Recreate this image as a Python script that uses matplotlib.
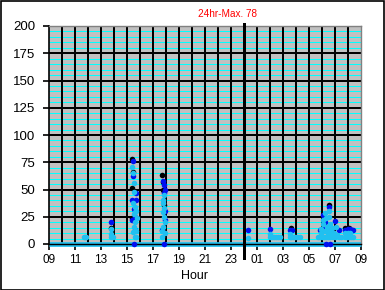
import matplotlib
matplotlib.use("Agg")
import matplotlib.pyplot as plt
from matplotlib.patches import Rectangle

# ---- data (hours counted from 00:00 of day 1; 24..33 = next day 00..09) ----
base_t = [9.0, 33.0]
base_v = [0, 0]

black_t = [13.80, 15.38, 15.45, 15.42, 15.40, 17.72, 17.80, 17.76, 17.85,
           27.60, 30.52, 31.77, 31.98, 32.10]
black_v = [15, 78, 66, 51, 24, 63, 57, 50, 36,
           15, 35.5, 15, 15, 15]

blue_t = [13.75,
          15.45, 15.48, 15.72, 15.42, 15.70, 15.50, 15.40, 15.60, 15.55, 15.65,
          17.78, 17.85, 17.90, 17.82, 17.95, 17.70, 17.85, 17.92,
          24.28, 26.00, 27.52, 27.68,
          30.52, 30.10, 31.00, 30.25, 30.15, 29.85, 30.70, 31.30, 30.30, 30.60,
          31.77, 31.97, 32.12, 32.30, 32.40]
blue_v = [20.5,
          76, 62, 47, 40, 40, 32, 22, 13, 0, 25,
          58, 54, 50, 47, 22, 13, 0, 30,
          12.8, 13.5, 13, 13,
          33.5, 26.5, 21, 20.5, 14, 13, 14, 13, 0, 0,
          13, 13.5, 13.5, 13, 13]

lblue_t = [11.68, 11.75, 11.82,
           13.78, 13.80, 13.77, 13.90,
           15.42, 15.46, 15.50, 15.52, 15.45, 15.58, 15.60, 15.50, 15.65, 15.55,
           15.45, 15.62, 15.72, 15.70, 15.75, 15.68,
           17.82, 17.78, 17.80, 17.85, 17.75, 17.88, 17.90, 17.80, 17.72, 17.68, 17.95,
           24.28,
           26.00, 25.98, 26.15, 26.30, 26.45, 26.60, 26.75,
           27.55, 27.50, 27.65, 27.80, 27.95, 28.10, 28.30,
           29.70, 29.85, 29.95, 30.05, 30.10, 30.20, 30.30, 30.40, 30.45, 30.50,
           30.55, 30.60, 30.65, 30.75, 30.85, 30.95, 31.05, 31.15, 31.30, 31.45,
           30.00, 30.15, 30.30, 30.45, 30.60, 30.25, 29.90, 30.80, 31.00,
           31.77, 31.80,
           31.95, 32.10, 32.25, 32.40, 31.97, 32.15]
lblue_v = [6, 6, 6,
           13.5, 9, 6, 6,
           71, 65, 56, 48, 37.6, 34, 29.6, 27.5, 20.5, 16,
           11, 6, 6, 30, 24, 12,
           45, 40, 37.5, 33, 29, 25, 20.5, 16, 12, 6, 10,
           5.8,
           9.6, 6, 6, 6, 6, 6, 6,
           9.6, 6, 6, 6, 6, 6, 6,
           6, 6, 10, 18, 22, 28, 24, 16, 10, 30,
           25, 18, 12, 8, 6, 10, 16, 8, 6, 6,
           6, 6, 6, 6, 6, 12, 14, 15, 6,
           6, 10,
           6, 6, 6, 6, 10, 10]

xtick_pos = [9, 11, 13, 15, 17, 19, 21, 23, 25, 27, 29, 31, 33]
xtick_labels = ["09", "11", "13", "15", "17", "19", "21", "23",
                "01", "03", "05", "07", "09"]
ytick_pos = [0, 25, 50, 75, 100, 125, 150, 175, 200]
max_label = "24hr-Max. 78"
midnight = 24

plt.rcParams['font.family'] = ['Liberation Sans', 'DejaVu Sans']

W, H = 385, 290
fig = plt.figure(figsize=(W / 100, H / 100), dpi=100)
fig.patch.set_facecolor('white')
ax = fig.add_axes([49 / W, 46 / H, 312 / W, 218 / H])
ax.set_facecolor('#C0C0C0')
ax.set_xlim(9, 33)
ax.set_ylim(0, 200)

# cyan minor lines every 5
for v in range(5, 200, 5):
    if v % 25:
        ax.axhline(v, color='#00FFFF', lw=0.72, zorder=0.5, antialiased=False)
# black grid
for v in range(25, 200, 25):
    ax.axhline(v, color='black', lw=1.44, zorder=0.6, antialiased=False)
for h in range(10, 33):
    ax.axvline(h, color='black', lw=1.44, zorder=0.6, antialiased=False)

ms = 4.0
ax.plot(base_t, base_v, color='#20C0F0', lw=3.4, zorder=2, clip_on=False,
        solid_capstyle='butt')
ax.plot(black_t, black_v, 'o', color='black', ms=ms, mew=0, zorder=3, clip_on=False)
ax.plot(blue_t, blue_v, 'o', color='#0010F0', ms=ms, mew=0, zorder=4, clip_on=False)
ax.plot(lblue_t, lblue_v, 'o', color='#20C0F0', ms=ms, mew=0, zorder=5, clip_on=False)

# midnight line
ax.plot([midnight, midnight], [-13, 202], color='black', lw=2.0, zorder=6,
        clip_on=False, antialiased=False)

ax.set_xticks(xtick_pos)
ax.set_xticklabels(xtick_labels, fontsize=8.5)
ax.set_yticks(ytick_pos)
ax.set_yticklabels([str(v) for v in ytick_pos], fontsize=9.5)
ax.tick_params(axis='x', length=4, width=1.2, pad=3, direction='out')
ax.tick_params(axis='y', length=4, width=1.2, pad=6, direction='out')

for s in ['top', 'right']:
    ax.spines[s].set_color('#808080')
    ax.spines[s].set_linewidth(1.0)
ax.spines['left'].set_color('black')
ax.spines['left'].set_linewidth(1.2)
ax.spines['bottom'].set_color('black')
ax.spines['bottom'].set_linewidth(1.0)

fig.text(195 / W, 1 - 276 / H, "Hour", fontsize=9, ha='center', va='center')
fig.text(227.5 / W, 1 - 14 / H, max_label, fontsize=7.2, color='#FF0000',
         ha='center', va='center')

fig.patches.append(Rectangle((0.5 / W, 0.5 / H), 1 - 1.5 / W, 1 - 1.5 / H,
                             transform=fig.transFigure, fill=False,
                             edgecolor='black', lw=1.2))

fig.savefig('out.png', dpi=100)
